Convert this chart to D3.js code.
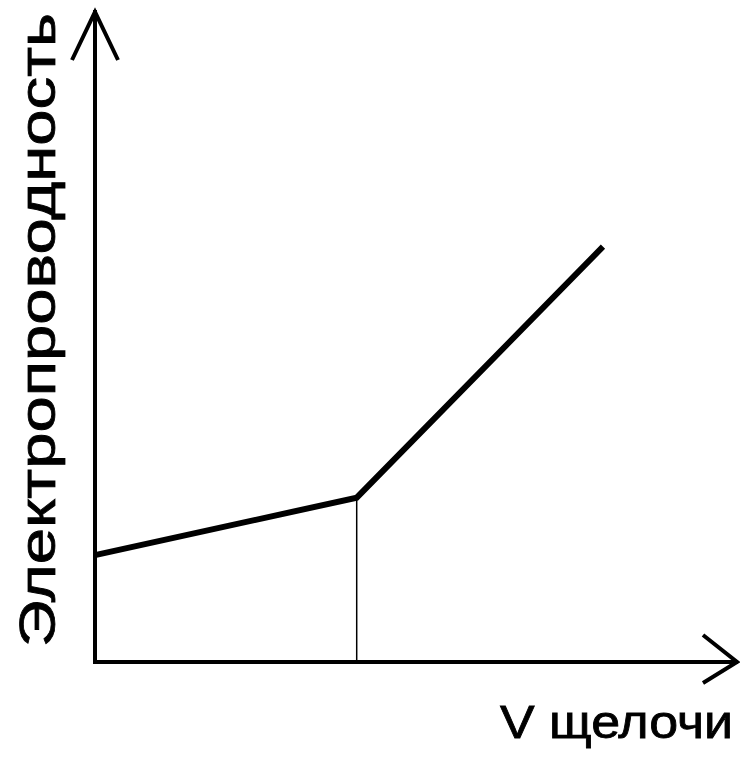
<!DOCTYPE html>
<html><head><meta charset="utf-8">
<script src="https://cdn.jsdelivr.net/npm/d3@7"></script>
<style>body{margin:0;background:#fff}</style>
</head><body>
<script>
const xLabel = "V щелочи";
const yLabel = "Электропроводность";
const xValues = [0, 4.07, 7.9];
const yValues = [1.64, 2.52, 6.37];
const breakIndex = 1;

const W = 740, H = 759;
const svg = d3.select("body").append("svg").attr("width", W).attr("height", H);
const x = d3.scaleLinear().domain([0, 10]).range([95, 738]);
const y = d3.scaleLinear().domain([0, 10]).range([662, 10]);

const g = svg.append("g");
// axes
g.append("line").attr("x1", x(0)).attr("y1", y(0)).attr("x2", x(0)).attr("y2", y(10))
  .attr("stroke", "#000").attr("stroke-width", 4);
g.append("line").attr("x1", x(0) - 2).attr("y1", y(0)).attr("x2", x(10)).attr("y2", y(0))
  .attr("stroke", "#000").attr("stroke-width", 4);
// arrows
g.append("path").attr("d", `M${x(0)-23},${y(10)+50} L${x(0)},${y(10)+2} L${x(0)+23},${y(10)+50}`)
  .attr("fill", "none").attr("stroke", "#000").attr("stroke-width", 4);
g.append("path").attr("d", `M${x(10)-35},${y(0)-27} L${x(10)-1},${y(0)} L${x(10)-35},${y(0)+21}`)
  .attr("fill", "none").attr("stroke", "#000").attr("stroke-width", 4);

// vertical guide
g.append("line").attr("x1", x(xValues[breakIndex])).attr("x2", x(xValues[breakIndex]))
  .attr("y1", y(yValues[breakIndex])).attr("y2", y(0))
  .attr("stroke", "#000").attr("stroke-width", 1.5);

// data line
const pts = xValues.map((v, i) => [v, yValues[i]]);
g.append("path").datum(pts)
  .attr("d", d3.line().x(d => x(d[0])).y(d => y(d[1])))
  .attr("fill", "none").attr("stroke", "#000").attr("stroke-width", 6)
  .attr("stroke-linejoin", "miter");

// labels
svg.append("text").attr("x", 500).attr("y", 738)
  .attr("font-family", "Liberation Sans, Arial, sans-serif").attr("font-size", 46)
  .attr("textLength", 233).attr("lengthAdjust", "spacingAndGlyphs")
  .attr("stroke", "#000").attr("stroke-width", 0.8)
  .text(xLabel);
svg.append("text").attr("transform", "translate(55,647) rotate(-90)")
  .attr("font-family", "Liberation Sans, Arial, sans-serif").attr("font-size", 50)
  .attr("textLength", 634).attr("lengthAdjust", "spacingAndGlyphs")
  .attr("stroke", "#000").attr("stroke-width", 0.8)
  .text(yLabel);
</script>
</body></html>
